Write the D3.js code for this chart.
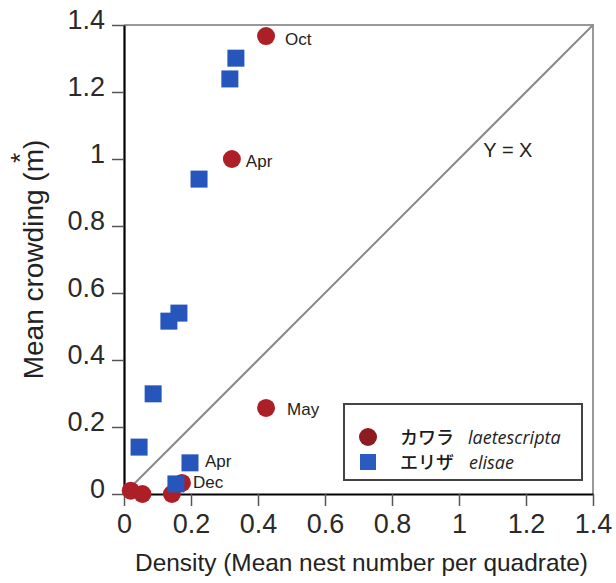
<!DOCTYPE html>
<html>
<head>
<meta charset="utf-8">
<script src="https://cdn.jsdelivr.net/npm/d3@7"></script>
<style>
  body { margin: 0; background: #fff; }
  svg { display: block; font-family: "Liberation Sans", Arial, sans-serif; }
</style>
</head>
<body>
<svg width="616" height="583"></svg>
<script>
// laetescripta (カワラ) - red circles
var kawaraX = [0.424, 0.322, 0.424, 0.173, 0.143, 0.055, 0.020];
var kawaraY = [1.367, 1.000, 0.257, 0.033, 0.000, 0.000, 0.010];
var kawaraLabels = ["Oct", "Apr", "May", "", "", "", ""];

// elisae (エリザ) - blue squares
var elisaeX = [0.334, 0.316, 0.224, 0.164, 0.134, 0.087, 0.045, 0.197, 0.155];
var elisaeY = [1.301, 1.239, 0.940, 0.540, 0.516, 0.299, 0.140, 0.093, 0.030];
var elisaeLabels = ["", "", "", "", "", "", "", "Apr", "Dec"];

var ticks = [0, 0.2, 0.4, 0.6, 0.8, 1, 1.2, 1.4];
var tickLabels = ["0", "0.2", "0.4", "0.6", "0.8", "1", "1.2", "1.4"];

var svg = d3.select("svg"),
    margin = {top: 25, right: 23, bottom: 89, left: 124},
    width = 469,
    height = 469,
    g = svg.append("g").attr("transform", "translate(" + margin.left + "," + margin.top + ")");

var x = d3.scaleLinear().domain([0, 1.4]).range([0, width]),
    y = d3.scaleLinear().domain([0, 1.4]).range([height, 0]);

var kawara = kawaraX.map(function (v, i) { return {x: v, y: kawaraY[i], label: kawaraLabels[i], s: "k"}; });
var elisae = elisaeX.map(function (v, i) { return {x: v, y: elisaeY[i], label: elisaeLabels[i], s: "e"}; });

// top and right frame + y = x line
g.append("path")
    .attr("d", "M" + x(0) + "," + y(1.4) + "H" + x(1.4) + "V" + y(0))
    .attr("fill", "none")
    .attr("stroke", "#999")
    .attr("stroke-width", 2);

g.append("line")
    .attr("x1", x(0)).attr("y1", y(0))
    .attr("x2", x(1.4)).attr("y2", y(1.4))
    .attr("stroke", "#8a8a8a")
    .attr("stroke-width", 2);

g.append("text")
    .attr("x", x(1.146))
    .attr("y", y(1.006))
    .attr("text-anchor", "middle")
    .style("font-size", "20px")
    .attr("fill", "#222")
    .text("Y = X");

// axes
var fmt = function (d) { return tickLabels[ticks.indexOf(d)]; };

var xAxis = g.append("g")
    .attr("transform", "translate(0," + height + ")")
    .call(d3.axisBottom(x).tickValues(ticks).tickFormat(fmt).tickSize(12).tickPadding(8).tickSizeOuter(0));

var yAxis = g.append("g")
    .call(d3.axisLeft(y).tickValues(ticks).tickFormat(fmt).tickSize(12).tickPadding(7).tickSizeOuter(0));

[xAxis, yAxis].forEach(function (a) {
    a.select(".domain").attr("stroke", "#000").attr("stroke-width", 2.2);
    a.selectAll(".tick line").attr("stroke", "#555").attr("stroke-width", 1.5);
    a.selectAll(".tick text")
        .attr("fill", "#2a2a2a")
        .style("font-size", "27px")
        .style("font-family", "'Liberation Sans', Arial, sans-serif");
});
yAxis.selectAll(".tick text").attr("dy", "0.13em");

// axis titles
g.append("text")
    .attr("x", width / 2 + 3)
    .attr("y", height + 77)
    .attr("text-anchor", "middle")
    .style("font-size", "24.4px")
    .attr("fill", "#222")
    .text("Density (Mean nest number per quadrate)");

g.append("text")
    .attr("transform", "translate(" + (43 - margin.left) + "," + (height / 2) + ") rotate(-90)")
    .attr("text-anchor", "middle")
    .style("font-size", "28px")
    .attr("fill", "#222")
    .text("Mean crowding (m)");

g.append("text")
    .attr("transform", "translate(" + (29 - margin.left) + "," + (158 - margin.top) + ") rotate(-90)")
    .attr("text-anchor", "middle")
    .style("font-size", "26px")
    .attr("fill", "#222")
    .text("*");

// points
g.selectAll(".kawara")
    .data(kawara)
    .enter().append("circle")
    .attr("class", "kawara")
    .attr("cx", function (d) { return x(d.x); })
    .attr("cy", function (d) { return y(d.y); })
    .attr("r", 9)
    .attr("fill", "#ad1f27");

var sq = 17;
g.selectAll(".elisae")
    .data(elisae)
    .enter().append("rect")
    .attr("class", "elisae")
    .attr("x", function (d) { return x(d.x) - sq / 2; })
    .attr("y", function (d) { return y(d.y) - sq / 2; })
    .attr("width", sq)
    .attr("height", sq)
    .attr("fill", "#2656bb");

// point labels (offset from the mark, in px)
var labelOffset = {kOct: [19, 9], kApr: [14, 8], kMay: [21, 7], eApr: [15, 4], eDec: [17, 4]};

g.selectAll(".plabel")
    .data(kawara.concat(elisae).filter(function (d) { return d.label; }))
    .enter().append("text")
    .attr("class", "plabel")
    .attr("x", function (d) { return x(d.x) + labelOffset[d.s + d.label][0]; })
    .attr("y", function (d) { return y(d.y) + labelOffset[d.s + d.label][1]; })
    .style("font-size", "17px")
    .attr("fill", "#222")
    .text(function (d) { return d.label; });

// legend
var legend = svg.append("g").attr("transform", "translate(344,404)");
legend.append("rect")
    .attr("width", 238)
    .attr("height", 76)
    .attr("fill", "#fff")
    .attr("stroke", "#444")
    .attr("stroke-width", 2);

var legendItems = [
    {jp: "カワラ", sci: "laetescripta", shape: "circle", color: "#8e1b20"},
    {jp: "エリザ", sci: "elisae", shape: "square", color: "#2a5bc0"}
];

var li = legend.selectAll(".item")
    .data(legendItems)
    .enter().append("g")
    .attr("class", "item")
    .attr("transform", function (d, i) { return "translate(0," + (33 + i * 25) + ")"; });

li.each(function (d) {
    var s = d3.select(this);
    if (d.shape === "circle") {
        s.append("circle").attr("cx", 24).attr("cy", 0).attr("r", 9).attr("fill", d.color);
    } else {
        s.append("rect").attr("x", 16).attr("y", -8).attr("width", 16).attr("height", 16).attr("fill", d.color);
    }
});

li.append("text")
    .attr("x", 56)
    .attr("y", 7)
    .style("font-family", "'Noto Sans CJK JP', sans-serif")
    .style("font-size", "18px")
    .style("font-weight", "500")
    .attr("fill", "#1a1a1a")
    .text(function (d) { return d.jp; });

li.append("text")
    .attr("x", function (d, i) { return i === 0 ? 124 : 125; })
    .attr("y", 7)
    .style("font-family", "'Open Sans', sans-serif")
    .style("font-style", "italic")
    .style("font-size", "18px")
    .attr("fill", "#222")
    .text(function (d) { return d.sci; });
</script>
</body>
</html>
